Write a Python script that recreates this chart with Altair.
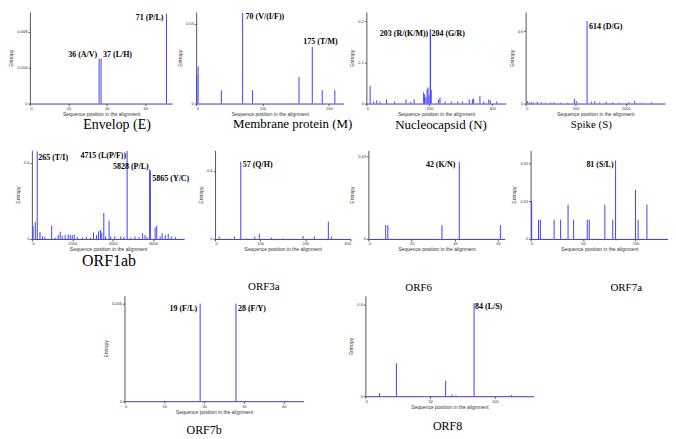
import altair as alt
import pandas as pd

BLUE = "#4040ff"

# ---------------- data (position, entropy) ----------------
env_pos = [36, 37, 71]
env_val = [0.005, 0.005, 0.01]

mem_pos = [1, 3, 38, 70, 85, 155, 175, 190, 209]
mem_val = [0.011, 0.0139, 0.005, 0.034, 0.005, 0.01, 0.0212, 0.005, 0.005]

nuc_pos = [12, 23, 33, 43, 64, 90, 126, 141, 152, 182, 185, 189, 193, 196, 199, 203, 204,
           206, 229, 234, 250, 270, 291, 306, 327, 337, 341, 361, 373, 389, 394, 414]
nuc_val = [0.042, 0.005, 0.008, 0.005, 0.01, 0.005, 0.01, 0.004, 0.01, 0.027, 0.022, 0.015,
           0.035, 0.039, 0.02, 0.18, 0.18, 0.033, 0.01, 0.015, 0.005, 0.005, 0.005, 0.005,
           0.01, 0.01, 0.012, 0.018, 0.005, 0.01, 0.008, 0.005]

spk_pos = [20, 40, 60, 80, 116, 156, 200, 253, 285, 350, 415, 487, 506, 614, 659, 691, 740,
           805, 870, 935, 1032, 1090, 1162, 1260]
spk_val = [0.02, 0.01, 0.012, 0.008, 0.015, 0.01, 0.006, 0.008, 0.01, 0.008, 0.006, 0.04,
           0.02, 0.685, 0.015, 0.02, 0.01, 0.015, 0.01, 0.008, 0.012, 0.02, 0.008, 0.01]

orf1ab_pos = [60, 170, 265, 400, 520, 640, 980, 1150, 1300, 1400, 1500, 1650, 1800, 1900,
              2000, 2100, 2250, 2500, 2700, 2900, 3050, 3200, 3300, 3400, 3460, 3560, 3650,
              3820, 3900, 4100, 4400, 4550, 4715, 4900, 5100, 5300, 5480, 5600, 5700, 5828,
              5865, 6100, 6180, 6350, 6450, 6600, 6750, 6900, 7100]
orf1ab_val = [0.10, 0.135, 0.69, 0.055, 0.02, 0.015, 0.105, 0.01, 0.03, 0.057, 0.025, 0.03,
              0.035, 0.03, 0.03, 0.035, 0.015, 0.01, 0.015, 0.01, 0.05, 0.03, 0.06, 0.07,
              0.05, 0.205, 0.02, 0.145, 0.02, 0.02, 0.02, 0.015, 0.695, 0.01, 0.02, 0.015,
              0.045, 0.03, 0.015, 0.55, 0.54, 0.09, 0.105, 0.02, 0.045, 0.03, 0.04, 0.02, 0.015]

orf3a_pos = [9, 43, 57, 70, 88, 98, 125, 150, 195, 220, 251, 258]
orf3a_val = [0.02, 0.02, 0.68, 0.005, 0.02, 0.045, 0.01, 0.005, 0.025, 0.02, 0.152, 0.02]

orf6_pos = [8, 9, 34, 42, 61]
orf6_val = [0.005, 0.005, 0.005, 0.028, 0.005]

orf7a_pos = [1, 7.5, 9.3, 22.4, 28.6, 35.7, 41, 54, 55.9, 70.8, 78.3, 81, 100, 102.5, 110.9]
orf7a_val = [0.0101, 0.0051, 0.0051, 0.0051, 0.0051, 0.0091, 0.0051, 0.0051, 0.0051, 0.0091,
             0.0051, 0.0208, 0.013, 0.0051, 0.0091]

orf7b_pos = [19, 28]
orf7b_val = [0.006, 0.006]

orf8_pos = [11, 24, 50, 62, 67, 70, 84, 113]
orf8_val = [0.02, 0.215, 0.003, 0.102, 0.012, 0.006, 0.608, 0.008]

# ---------------- annotations (position, entropy, label, align, dx, dy) ----------------
ann = {
    "env": [(71, 0.01, "71 (P/L)", "right", -3, 4), (36, 0.005, "36 (A/V)", "right", -2, -4),
            (37, 0.005, "37 (L/H)", "left", 2, -4)],
    "mem": [(70, 0.034, "70 (V/(I/F))", "left", 3, 4), (175, 0.0212, "175 (T/M)", "left", -9, -5)],
    "nuc": [(203, 0.18, "203 (R/(K/M))", "right", -2, 5), (204, 0.18, "204 (G/R)", "left", 1, 5)],
    "spk": [(614, 0.685, "614 (D/G)", "left", 2, 6)],
    "orf1ab": [(265, 0.69, "265 (T/I)", "left", 1, 6), (4715, 0.695, "4715 (L(P/F))", "right", -1, 5),
               (5828, 0.55, "5828 (P/L)", "right", -1, -2), (5865, 0.54, "5865 (Y/C)", "left", 2, 8)],
    "orf3a": [(57, 0.68, "57 (Q/H)", "left", 2, 3)],
    "orf6": [(42, 0.028, "42 (K/N)", "right", -4, 3)],
    "orf7a": [(81, 0.0208, "81 (S/L)", "right", -2, 5)],
    "orf7b": [(19, 0.006, "19 (F/L)", "right", -3, 5), (28, 0.006, "28 (F/Y)", "left", 2, 5)],
    "orf8": [(84, 0.608, "84 (L/S)", "left", 1, 4)],
}

LABEL_EXPR = "format(datum.value, '~r')"


def panel(key, pos, val, xdom, xticks, ydom, yticks, w, h, title, tsize, tdx, toff):
    df = pd.DataFrame({"pos": pos, "val": val})
    x = alt.X("pos:Q", scale=alt.Scale(domain=xdom, nice=False, zero=False),
              axis=alt.Axis(values=xticks, labelExpr=LABEL_EXPR,
                            title="Sequence position in the alignment",
                            domainColor="#3a3ab8", tickColor="#555"))
    y = alt.Y("val:Q", scale=alt.Scale(domain=ydom, nice=False),
              axis=alt.Axis(values=yticks, labelExpr=LABEL_EXPR, title="Entropy",
                            domainColor="#555", tickColor="#555"))
    layers = [alt.Chart(df).mark_rule(color=BLUE, strokeWidth=1).encode(x=x, y=y, y2=alt.datum(0))]
    for p, v, lab, al, dx, dy in ann.get(key, []):
        adf = pd.DataFrame({"pos": [p], "val": [v], "label": [lab]})
        layers.append(
            alt.Chart(adf).mark_text(align=al, baseline="middle", dx=dx, dy=dy,
                                     font="Liberation Serif", fontSize=8, fontWeight="bold",
                                     color="black")
            .encode(x="pos:Q", y="val:Q", text="label:N"))
    return alt.layer(*layers).properties(
        width=w, height=h,
        title=alt.TitleParams(title, orient="bottom", anchor="middle", frame="group",
                              font="Liberation Serif", fontSize=tsize, fontWeight="normal",
                              color="black", dx=tdx, offset=toff))


def spacer(w, h=1):
    return alt.Chart(pd.DataFrame({"s": [0]})).mark_point(opacity=0).properties(width=w, height=h)


H1, H2 = 92, 89

env = panel("env", env_pos, env_val, [0, 74], [0, 20, 40, 60], [0, 0.0102],
            [0, 0.002, 0.004, 0.006, 0.008, 0.01], 143, H1, "Envelop (E)", 14, 16, 2)
mem = panel("mem", mem_pos, mem_val, [0, 222], [0, 50, 100, 150, 200], [0, 0.0343],
            [0, 0.01, 0.02, 0.03], 148, H1, "Membrane protein (M)", 13, 23, 2)
nuc = panel("nuc", nuc_pos, nuc_val, [0, 443], [0, 100, 200, 300, 400], [0, 0.222],
            [0, 0.05, 0.1, 0.15, 0.2], 140, H1, "Nucleocapsid (N)", 13, 5, 3)
spk = panel("spk", spk_pos, spk_val, [0, 1393], [0, 500, 1000], [0, 0.76],
            [0, 0.2, 0.4, 0.6], 140, H1, "Spike (S)", 11, -4, 3)

o1 = panel("orf1ab", orf1ab_pos, orf1ab_val, [0, 7540], [0, 2000, 4000, 6000], [0, 0.70],
           [0, 0.2, 0.4, 0.6], 153, H2, "ORF1ab", 16, 1, 1)
o3 = panel("orf3a", orf3a_pos, orf3a_val, [0, 300], [0, 50, 100, 150, 200, 250, 300], [0, 0.78],
           [0, 0.2, 0.4, 0.6], 136, H2, "ORF3a", 11, -19, 29)
o6 = panel("orf6", orf6_pos, orf6_val, [0, 63], [0, 20, 40, 60], [0, 0.0322],
           [0, 0.01, 0.02, 0.03], 137, H2, "ORF6", 11, -18, 30)
o7a = panel("orf7a", orf7a_pos, orf7a_val, [0, 131], [0, 50, 100], [0, 0.0235],
            [0, 0.005, 0.01, 0.015, 0.02], 138, H2, "ORF7a", 11, 27, 30)

o7b = panel("orf7b", orf7b_pos, orf7b_val, [0, 45], [0, 10, 20, 30, 40], [0, 0.00649],
            [0, 0.002, 0.004, 0.006], 180, 106, "ORF7b", 12, -10, 11)
o8 = panel("orf8", orf8_pos, orf8_val, [0, 130], [0, 50, 100], [0, 0.656],
           [0, 0.2, 0.4, 0.6], 169, 101, "ORF8", 12, -2, 12)

row1 = alt.hconcat(spacer(20, 136), env, spacer(23.6), mem, spacer(22.5), nuc,
                   spacer(19.8), spk, spacing=0, bounds="flush")
row2 = alt.hconcat(spacer(21.6, 143), o1, spacer(30.2), o3, spacer(17.9), o6,
                   spacer(25.7), o7a, spacing=0, bounds="flush")
row3 = alt.hconcat(spacer(114.7), o7b, spacer(62), o8, spacing=0, bounds="flush")

chart = alt.vconcat(row1, row2, row3, spacing=0, bounds="full").properties(
    padding=0
).configure_view(strokeWidth=0).configure_axis(
    labelFont="Liberation Sans", labelFontSize=4, labelColor="#333", labelPadding=1,
    titleFont="Liberation Sans", titleFontSize=5, titleFontWeight="normal", titleColor="#333",
    titlePadding=1, tickSize=2, grid=False,
).configure_axisY(titlePadding=3)

chart.save("out.html", embed_options={"renderer": "svg", "actions": False})
